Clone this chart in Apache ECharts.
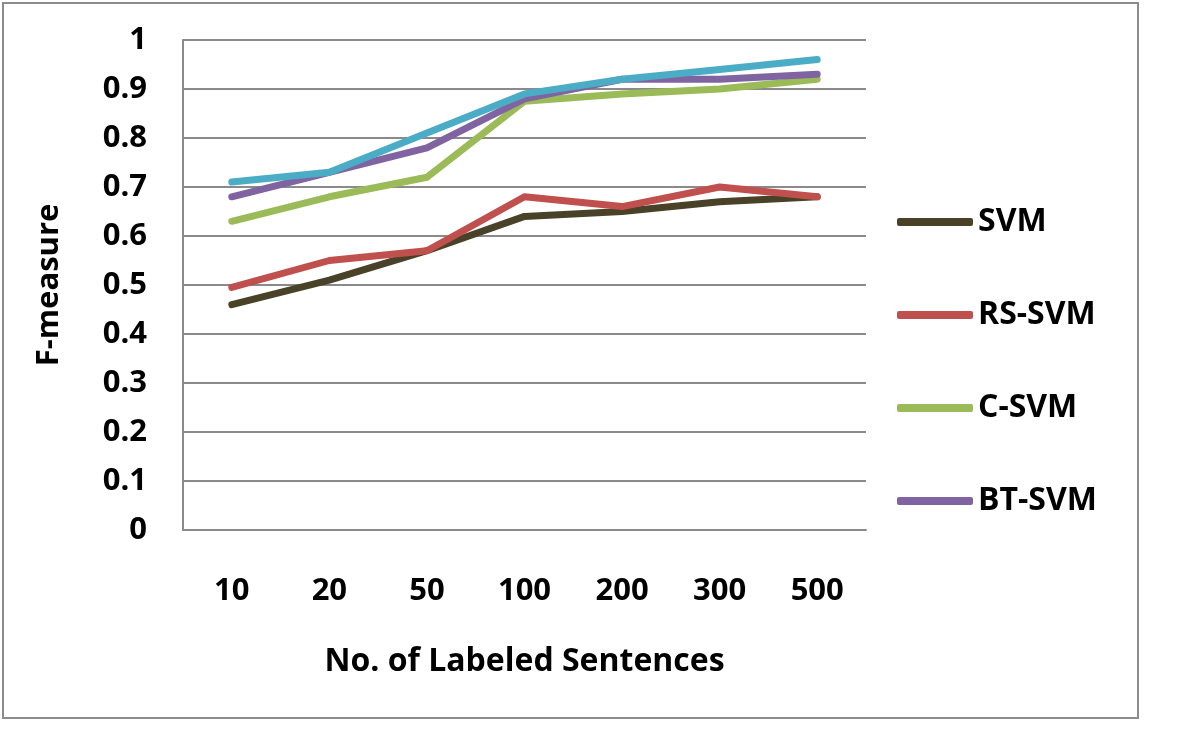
<!DOCTYPE html>
<html>
<head>
<meta charset="utf-8">
<script src="https://cdn.jsdelivr.net/npm/echarts@6/dist/echarts.min.js"></script>
<style>
  html, body { margin: 0; padding: 0; background: #fff; }
  #chart { width: 1200px; height: 735px; }
</style>
</head>
<body>
<div id="chart"></div>
<script>
// x categories (number of labeled sentences)
const sentences = ["10", "20", "50", "100", "200", "300", "500"];

// F-measure
const svm   = [0.46, 0.51, 0.57, 0.64, 0.65, 0.67, 0.68];
const rsSvm = [0.495, 0.55, 0.57, 0.68, 0.66, 0.70, 0.68];
const cSvm  = [0.63, 0.68, 0.72, 0.875, 0.89, 0.90, 0.92];
const btSvm = [0.68, 0.73, 0.78, 0.88, 0.92, 0.92, 0.93];
// fifth line, not listed in the legend
const extra = [0.71, 0.73, 0.81, 0.89, 0.92, 0.94, 0.96];

const legendNames = ["SVM", "RS-SVM", "C-SVM", "BT-SVM"];

const FONT = "Open Sans";
const gridGray = "#8a8a8a";

const chart = echarts.init(document.getElementById("chart"));

const mkLine = (name, data, color) => ({
  name: name,
  type: "line",
  data: data,
  symbol: "none",
  color: color,
  lineStyle: { width: 7, color: color, cap: "round", join: "round" },
  animation: false,
});

chart.setOption({
  backgroundColor: "#fff",
  animation: false,
  graphic: [
    {
      type: "rect",
      shape: { x: 3, y: 3, width: 1135, height: 715 },
      style: { fill: "none", stroke: "#8c8c8c", lineWidth: 2 },
      silent: true,
    },
  ],
  grid: { left: 183, right: 334, top: 40, bottom: 205 },
  legend: {
    data: legendNames,
    orient: "vertical",
    left: 892,
    top: 201,
    itemWidth: 76,
    itemHeight: 8,
    itemGap: 61,
    icon: "roundRect",
    textStyle: {
      fontFamily: FONT,
      fontWeight: "bold",
      fontSize: 32,
      color: "#000",
      lineHeight: 30,
    },
  },
  xAxis: {
    type: "category",
    data: sentences,
    boundaryGap: true,
    name: "No. of Labeled Sentences",
    nameLocation: "middle",
    nameGap: 116,
    nameTextStyle: { fontFamily: FONT, fontWeight: "bold", fontSize: 32, color: "#000" },
    axisLine: { lineStyle: { color: gridGray, width: 2 } },
    axisTick: { show: false },
    axisLabel: { margin: 46, fontFamily: FONT, fontWeight: "bold", fontSize: 31, color: "#000" },
  },
  yAxis: {
    type: "value",
    min: 0,
    max: 1,
    interval: 0.1,
    name: "F-measure",
    nameLocation: "middle",
    nameGap: 118,
    nameTextStyle: { fontFamily: FONT, fontWeight: "bold", fontSize: 31, color: "#000" },
    axisLine: { show: true, lineStyle: { color: gridGray, width: 2 } },
    axisTick: { show: false },
    axisLabel: { margin: 36, fontFamily: FONT, fontWeight: "bold", fontSize: 31, color: "#000" },
    splitLine: { lineStyle: { color: gridGray, width: 2 } },
  },
  series: [
    mkLine("SVM", svm, "#4a4228"),
    mkLine("RS-SVM", rsSvm, "#c0504d"),
    mkLine("C-SVM", cSvm, "#9bbb59"),
    mkLine("BT-SVM", btSvm, "#8064a2"),
    mkLine("Series 5", extra, "#4bacc6"),
  ],
});
</script>
</body>
</html>
